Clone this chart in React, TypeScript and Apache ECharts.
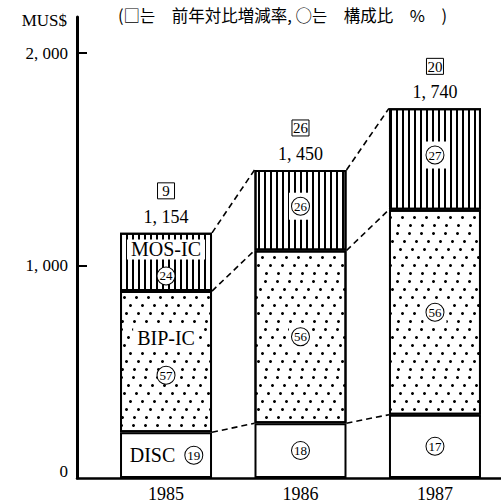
import React, { useEffect, useRef } from 'react';
import * as echarts from 'echarts';

// ---- data ----
const years = ['1985', '1986', '1987'];
const disc = [215, 258, 298];
const bip = [665, 813, 965];
const mos = [274, 379, 477];
const totals = [1154, 1450, 1740];
const totalLabels = ['1, 154', '1, 450', '1, 740'];
const growth = [9, 26, 20];
const discShare = [19, 18, 17];
const bipShare = [57, 56, 56];
const mosShare = [24, 26, 27];
const yTicks = [0, 1000, 2000];
const yTickLabels = ['0', '1, 000', '2, 000'];
const segNames = ['DISC', 'BIP-IC', 'MOS-IC'];
const titleText = '(□는　前年対比増減率, ○는　構成比　%　)';
const unitText = 'MUS$';

const SERIF = "'Liberation Serif', 'Times New Roman', serif";
const CJK = "'Noto Sans CJK JP', 'Noto Sans CJK KR', sans-serif";
const BAR_W = 92;

const circleStyle = {
  width: 17,
  height: 17,
  lineHeight: 17,
  borderRadius: 9,
  borderColor: '#000',
  borderWidth: 1,
  backgroundColor: '#fff',
  align: 'center',
  fontSize: 13,
  fontFamily: SERIF,
  color: '#000',
};

const nameStyle = {
  fontFamily: SERIF,
  fontSize: 20,
  lineHeight: 20,
  color: '#000',
  backgroundColor: '#fff',
  padding: [0, 4],
};

const richBase = {
  c: circleStyle,
  n: nameStyle,
  sp: { fontSize: 8, lineHeight: 10 },
};

const stripeDecal = {
  symbol: 'rect',
  symbolSize: 1,
  color: '#000',
  backgroundColor: '#fff',
  dashArrayX: [2, 4],
  dashArrayY: [10, 0],
};

const dotDecal = {
  symbol: 'circle',
  symbolSize: 1,
  color: '#000',
  backgroundColor: '#fff',
  dashArrayX: [
    [3, 9],
    [0, 7, 3, 2],
    [0, 3, 3, 6],
    [0, 9, 3, 0],
    [0, 5, 3, 4],
    [0, 1, 3, 8],
  ],
  dashArrayY: [3, 5],
};

export default function App() {
  const ref = useRef<HTMLDivElement>(null);

  useEffect(() => {
    if (!ref.current) return;
    const chart = echarts.init(ref.current, null, { renderer: 'svg' });

    const cumDisc = disc;
    const cumBip = disc.map((d, i) => d + bip[i]);
    const cumTop = cumBip.map((b, i) => b + mos[i]);
    const connectors: number[][] = [];
    [cumDisc, cumBip, cumTop].forEach((lvl) => {
      for (let i = 0; i < lvl.length - 1; i++) connectors.push([i, lvl[i], lvl[i + 1]]);
    });

    // data items are [value, index] so that the stacked dimension is the y value
    const barBase = {
      type: 'bar',
      stack: 'total',
      barWidth: BAR_W,
      silent: true,
      z: 2,
      encode: { x: 1, y: 0 },
    };

    const option: any = {
      animation: false,
      backgroundColor: '#fff',
      title: {
        text: titleText,
        left: 118,
        top: 7,
        padding: 0,
        textStyle: { fontFamily: CJK, fontSize: 16.5, fontWeight: 'normal', color: '#000' },
      },
      grid: { left: 77, right: 0, top: 17, bottom: 25, containLabel: false, outerBoundsMode: 'none' },
      xAxis: {
        type: 'value',
        min: -0.662,
        max: 2.491,
        axisLine: { show: true, onZero: false, lineStyle: { color: '#000', width: 2.5 } },
        axisTick: { show: false },
        splitLine: { show: false },
        axisLabel: {
          customValues: [0, 1, 2],
          formatter: (v: number) => years[Math.round(v)] ?? '',
          fontFamily: SERIF,
          fontSize: 18,
          color: '#000',
          margin: 7,
        },
      },
      yAxis: {
        type: 'value',
        min: 0,
        max: 2170,
        name: unitText,
        nameLocation: 'end',
        nameGap: -3,
        nameTextStyle: {
          fontFamily: SERIF,
          fontSize: 17,
          color: '#000',
          align: 'right',
          verticalAlign: 'middle',
          padding: [0, 10, 0, 0],
        },
        axisLine: { show: true, onZero: false, lineStyle: { color: '#000', width: 3 } },
        axisTick: {
          show: true,
          inside: true,
          length: 10,
          customValues: [1000, 2000],
          lineStyle: { color: '#000', width: 2 },
        },
        splitLine: { show: false },
        axisLabel: {
          customValues: yTicks,
          formatter: (v: number) => {
            const idx = yTicks.indexOf(v);
            if (idx < 0) return '';
            return v === 0 ? '{z|' + yTickLabels[idx] + '}' : yTickLabels[idx];
          },
          rich: { z: { fontFamily: SERIF, fontSize: 17, color: '#000', padding: [0, 0, 13, 0] } },
          fontFamily: SERIF,
          fontSize: 17,
          color: '#000',
          margin: 9,
        },
      },
      series: [
        {
          ...barBase,
          name: segNames[0],
          itemStyle: { color: '#fff', borderColor: '#000', borderWidth: 2 },
          label: {
            show: true,
            position: 'inside',
            formatter: (p: any) =>
              p.dataIndex === 0
                ? '{n|' + segNames[0] + '}{c|' + discShare[0] + '}'
                : '{c|' + discShare[p.dataIndex] + '}',
            rich: {
              ...richBase,
              n: { ...nameStyle, backgroundColor: 'transparent', padding: [0, 10, 0, 0] },
            },
          },
          data: disc.map((v, i) => [v, i]),
        },
        {
          ...barBase,
          name: segNames[1],
          itemStyle: { color: '#fff', borderColor: '#000', borderWidth: 2, decal: dotDecal },
          label: {
            show: true,
            position: 'inside',
            formatter: (p: any) =>
              p.dataIndex === 0
                ? '{n|' + segNames[1] + '}\n{sp| }\n{c|' + bipShare[0] + '}'
                : '{c|' + bipShare[p.dataIndex] + '}',
            rich: { ...richBase, sp: { fontSize: 8, lineHeight: 19 } },
          },
          data: bip.map((v, i) =>
            i === 0
              ? { value: [v, i], label: { offset: [0, -6] } }
              : { value: [v, i], label: { backgroundColor: '#fff', padding: [3, 3] } }
          ),
        },
        {
          ...barBase,
          name: segNames[2],
          itemStyle: { color: '#fff', borderColor: '#000', borderWidth: 2, decal: stripeDecal },
          label: {
            show: true,
            position: 'inside',
            formatter: (p: any) =>
              p.dataIndex === 0
                ? '{n|' + segNames[2] + '}\n{sp| }\n{c|' + mosShare[0] + '}'
                : '{c|' + mosShare[p.dataIndex] + '}',
            rich: { ...richBase, sp: { fontSize: 8, lineHeight: 8 } },
          },
          data: mos.map((v, i) =>
            i === 0
              ? { value: [v, i] }
              : { value: [v, i], label: { backgroundColor: '#fff', padding: [5, 3], offset: [0, -4] } }
          ),
        },
        {
          type: 'scatter',
          silent: true,
          symbolSize: 0,
          z: 3,
          itemStyle: { opacity: 1 },
          label: {
            show: true,
            position: 'top',
            distance: 5,
            color: '#000',
            formatter: (p: any) =>
              '{b|' + growth[p.dataIndex] + '}\n{g| }\n{t|' + totalLabels[p.dataIndex] + '}',
            rich: {
              b: {
                width: 15,
                height: 15,
                lineHeight: 16,
                align: 'center',
                padding: [1, 1, 0, 1],
                borderColor: '#000',
                borderWidth: 1,
                fontFamily: SERIF,
                fontSize: 15,
                color: '#000',
              },
              g: { fontSize: 6, lineHeight: 7 },
              t: { fontFamily: SERIF, fontSize: 18, lineHeight: 22, color: '#000' },
            },
          },
          data: totals.map((v, i) => [i, v]),
        },
        {
          type: 'custom',
          silent: true,
          z: 1,
          encode: { x: 0, y: 1 },
          renderItem: (params: any, api: any) => {
            const i = api.value(0);
            const a = api.value(1);
            const b = api.value(2);
            const p0 = api.coord([i, a]);
            const p1 = api.coord([i + 1, b]);
            return {
              type: 'line',
              shape: { x1: p0[0] + BAR_W / 2, y1: p0[1], x2: p1[0] - BAR_W / 2, y2: p1[1] },
              style: { stroke: '#000', lineWidth: 1.6, lineDash: [6, 4] },
            };
          },
          data: connectors,
        },
      ],
    };

    chart.setOption(option);
    return () => chart.dispose();
  }, []);

  return (
    <div
      ref={ref}
      style={{ position: 'absolute', left: 0, top: 0, width: 501, height: 503, background: '#fff' }}
    />
  );
}
